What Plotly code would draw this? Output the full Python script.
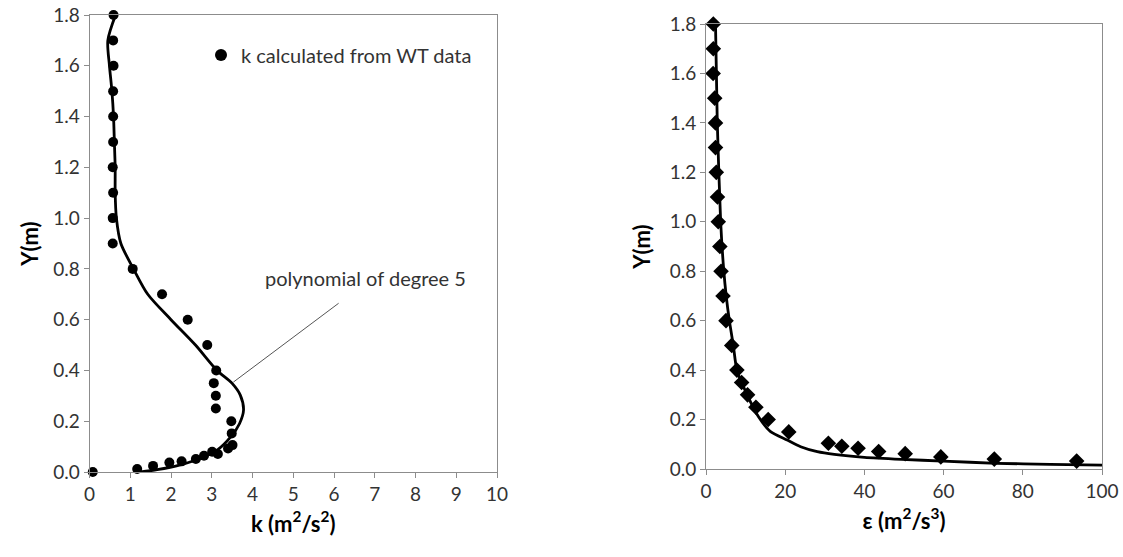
import plotly.graph_objects as go

# ---- Left panel: turbulent kinetic energy k ----
k_pts_y = [0.0, 0.012, 0.024, 0.037, 0.042, 0.051, 0.064, 0.071, 0.08, 0.093, 0.106, 0.152,
           0.2, 0.25, 0.3, 0.35, 0.4, 0.5, 0.6, 0.7, 0.8, 0.9, 1.0, 1.1, 1.2, 1.3, 1.4, 1.5,
           1.6, 1.7, 1.8]
k_pts_x = [0.08, 1.17, 1.56, 1.96, 2.26, 2.61, 2.81, 3.15, 3.01, 3.40, 3.51, 3.49,
           3.48, 3.10, 3.10, 3.05, 3.11, 2.89, 2.41, 1.78, 1.06, 0.57, 0.57, 0.58, 0.57,
           0.58, 0.58, 0.58, 0.59, 0.58, 0.59]

k_fit_y = [0.0, 0.009, 0.028, 0.054, 0.087, 0.139, 0.19, 0.244, 0.303, 0.349, 0.40, 0.5,
           0.6, 0.7, 0.8, 0.9, 1.0, 1.1, 1.2, 1.3, 1.4, 1.5, 1.6, 1.7, 1.8]
k_fit_x = [1.25, 1.66, 2.23, 2.73, 3.14, 3.47, 3.68, 3.78, 3.70, 3.50, 3.13, 2.60,
           2.00, 1.43, 1.08, 0.77, 0.66, 0.63, 0.63, 0.61, 0.59, 0.55, 0.49, 0.45, 0.64]

# ---- Right panel: dissipation rate epsilon ----
e_pts_y = [1.8, 1.7, 1.6, 1.5, 1.4, 1.3, 1.2, 1.1, 1.0, 0.9, 0.8, 0.7, 0.6, 0.5, 0.4, 0.35,
           0.3, 0.25, 0.2, 0.15, 0.104, 0.092, 0.084, 0.071, 0.062, 0.049, 0.040, 0.032]
e_pts_x = [1.85, 1.85, 1.8, 2.2, 2.4, 2.4, 2.6, 2.9, 3.1, 3.5, 3.8, 4.3, 5.05, 6.5, 7.8, 9.0,
           10.5, 12.6, 15.7, 20.9, 30.9, 34.3, 38.4, 43.6, 50.3, 59.3, 72.8, 93.6]

e_fit_y = [1.8, 1.4, 1.0, 0.8, 0.7, 0.6, 0.5, 0.4, 0.3, 0.21, 0.151, 0.117, 0.090, 0.070,
           0.059, 0.047, 0.039, 0.032, 0.023, 0.019, 0.016]
e_fit_x = [2.4, 2.85, 3.7, 4.5, 5.1, 5.9, 6.9, 7.8, 10.4, 13.3, 16.3, 20.5, 23.9, 28.1,
           32.4, 40.0, 49.4, 59.9, 73.4, 86.9, 100.0]

y_ticks = [0.0, 0.2, 0.4, 0.6, 0.8, 1.0, 1.2, 1.4, 1.6, 1.8]
k_ticks = list(range(0, 11))
e_ticks = [0, 20, 40, 60, 80, 100]

FONT = "Lato"
TICKCOL = "#333333"
AXCOL = "#8c8c8c"

fig = go.Figure()

fig.add_trace(go.Scatter(
    x=k_fit_x, y=k_fit_y, mode="lines", line=dict(color="black", width=2.8, shape="spline", smoothing=0.8),
    xaxis="x", yaxis="y", showlegend=False, hoverinfo="skip"))
fig.add_trace(go.Scatter(
    x=k_pts_x, y=k_pts_y, mode="markers", name="k calculated from WT data",
    marker=dict(symbol="circle", size=10, color="black"),
    xaxis="x", yaxis="y", cliponaxis=False, showlegend=True))

fig.add_trace(go.Scatter(
    x=e_fit_x, y=e_fit_y, mode="lines", line=dict(color="black", width=2.8, shape="spline", smoothing=0.6),
    xaxis="x2", yaxis="y2", showlegend=False, hoverinfo="skip", cliponaxis=False))
fig.add_trace(go.Scatter(
    x=e_pts_x, y=e_pts_y, mode="markers",
    marker=dict(symbol="diamond", size=12, color="black"),
    xaxis="x2", yaxis="y2", cliponaxis=False, showlegend=False))

axis_common = dict(showgrid=False, zeroline=False, showline=True, linecolor=AXCOL, linewidth=1,
                   mirror=True, ticks="outside", ticklen=5, tickcolor=AXCOL, automargin=False,
                   tickfont=dict(family=FONT, size=19, color=TICKCOL))

TITLE_FONT = dict(family=FONT, size=22, color="black")

fig.update_layout(
    width=1123, height=557,
    margin=dict(l=0, r=0, t=0, b=0, autoexpand=False),
    paper_bgcolor="white", plot_bgcolor="white",
    font=dict(family=FONT, color="black"),
    xaxis=dict(domain=[89.5 / 1123, 497 / 1123], range=[0, 10], tickvals=k_ticks, anchor="y",
               title=dict(text="<b>k (m<sup>2</sup>/s<sup>2</sup>)</b>", font=TITLE_FONT, standoff=12),
               **axis_common),
    yaxis=dict(domain=[1 - 472 / 557, 1 - 15 / 557], range=[0, 1.8], tickvals=y_ticks, tickformat=".1f",
               anchor="x",
               title=dict(text="<b>Y(m)</b>", font=TITLE_FONT, standoff=8),
               **axis_common),
    xaxis2=dict(domain=[706 / 1123, 1102 / 1123], range=[0, 100], tickvals=e_ticks, anchor="y2",
                title=dict(text="<b>\u03b5 (m<sup>2</sup>/s<sup>3</sup>)</b>", font=TITLE_FONT, standoff=12),
                **axis_common),
    yaxis2=dict(domain=[1 - 469 / 557, 1 - 24 / 557], range=[0, 1.8], tickvals=y_ticks, tickformat=".1f",
                anchor="x2",
                title=dict(text="<b>Y(m)</b>", font=TITLE_FONT, standoff=12),
                **axis_common),
    legend=dict(x=201 / 1123, y=1 - 55 / 557, xanchor="left", yanchor="middle",
                bgcolor="rgba(0,0,0,0)", borderwidth=0,
                font=dict(family=FONT, size=20, color=TICKCOL), itemsizing="constant"),
    annotations=[
        dict(text="polynomial of degree 5", x=365 / 1123, y=1 - 278 / 557, xref="paper", yref="paper",
             xanchor="center", yanchor="middle", showarrow=False,
             font=dict(family=FONT, size=20, color=TICKCOL)),
        dict(x=3.53, y=0.354, xref="x", yref="y", ax=6.15, ay=0.669, axref="x", ayref="y",
             showarrow=True, arrowhead=0, arrowwidth=1, arrowcolor="#555555", text=""),
    ],
)

fig.write_html("out.html")
